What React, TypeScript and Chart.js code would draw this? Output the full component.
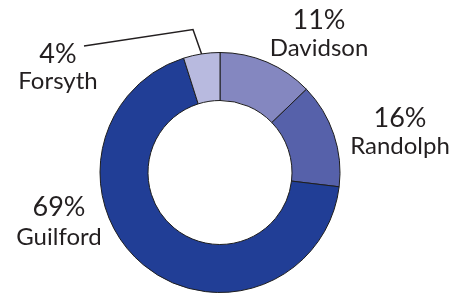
import React, { useEffect, useRef } from "react";
import { Chart, registerables } from "chart.js";

Chart.register(...registerables);

const counties = ["Davidson", "Randolph", "Guilford", "Forsyth"];
const shares = [12.8, 14.1, 68.2, 4.9];
const percentLabels = ["11%", "16%", "69%", "4%"];
const colors = ["#8487c0", "#5661aa", "#213e96", "#b8badf"];

// label anchors: [centerX, percent baseline, name baseline]
const labelPos: [number, number, number][] = [
  [319, 29, 56],
  [400, 127, 154],
  [59, 216, 245],
  [58, 63, 89],
];

const labelPlugin = {
  id: "countyLabels",
  afterDraw(chart: any) {
    const ctx = chart.ctx as CanvasRenderingContext2D;
    ctx.save();
    ctx.fillStyle = "#231f20";
    ctx.textAlign = "center";
    ctx.textBaseline = "alphabetic";
    counties.forEach((name, i) => {
      const [cx, py, ny] = labelPos[i];
      ctx.font = "27px Lato";
      ctx.fillText(percentLabels[i], cx, py);
      ctx.font = "24px Lato";
      ctx.fillText(name, cx, ny);
    });
    // leader line for Forsyth
    const arc = chart.getDatasetMeta(0).data[3] as any;
    const mid = (arc.startAngle + arc.endAngle) / 2;
    const ex = arc.x + Math.cos(mid) * arc.outerRadius;
    const ey = arc.y + Math.sin(mid) * arc.outerRadius;
    ctx.strokeStyle = "#231f20";
    ctx.lineWidth = 1.5;
    ctx.beginPath();
    ctx.moveTo(84, 46);
    ctx.lineTo(193, 29.5);
    ctx.lineTo(ex, ey);
    ctx.stroke();
    ctx.restore();
  },
};

export default function App() {
  const ref = useRef<HTMLCanvasElement>(null);
  useEffect(() => {
    if (!ref.current) return;
    const chart = new Chart(ref.current, {
      type: "doughnut",
      data: {
        labels: counties,
        datasets: [
          {
            data: shares,
            backgroundColor: colors,
            borderColor: "#1e1e1e",
            borderWidth: 1,
          },
        ],
      },
      options: {
        responsive: false,
        animation: false,
        cutout: "60%",
        layout: { padding: { left: 99.5, right: 125.5, top: 52, bottom: 1 } },
        plugins: { legend: { display: false }, tooltip: { enabled: false } },
      },
      plugins: [labelPlugin],
    });
    return () => chart.destroy();
  }, []);
  return (
    <div style={{ position: "fixed", left: 0, top: 0, width: 466, height: 294, background: "#fff" }}>
      <canvas ref={ref} width={466} height={294} />
    </div>
  );
}
